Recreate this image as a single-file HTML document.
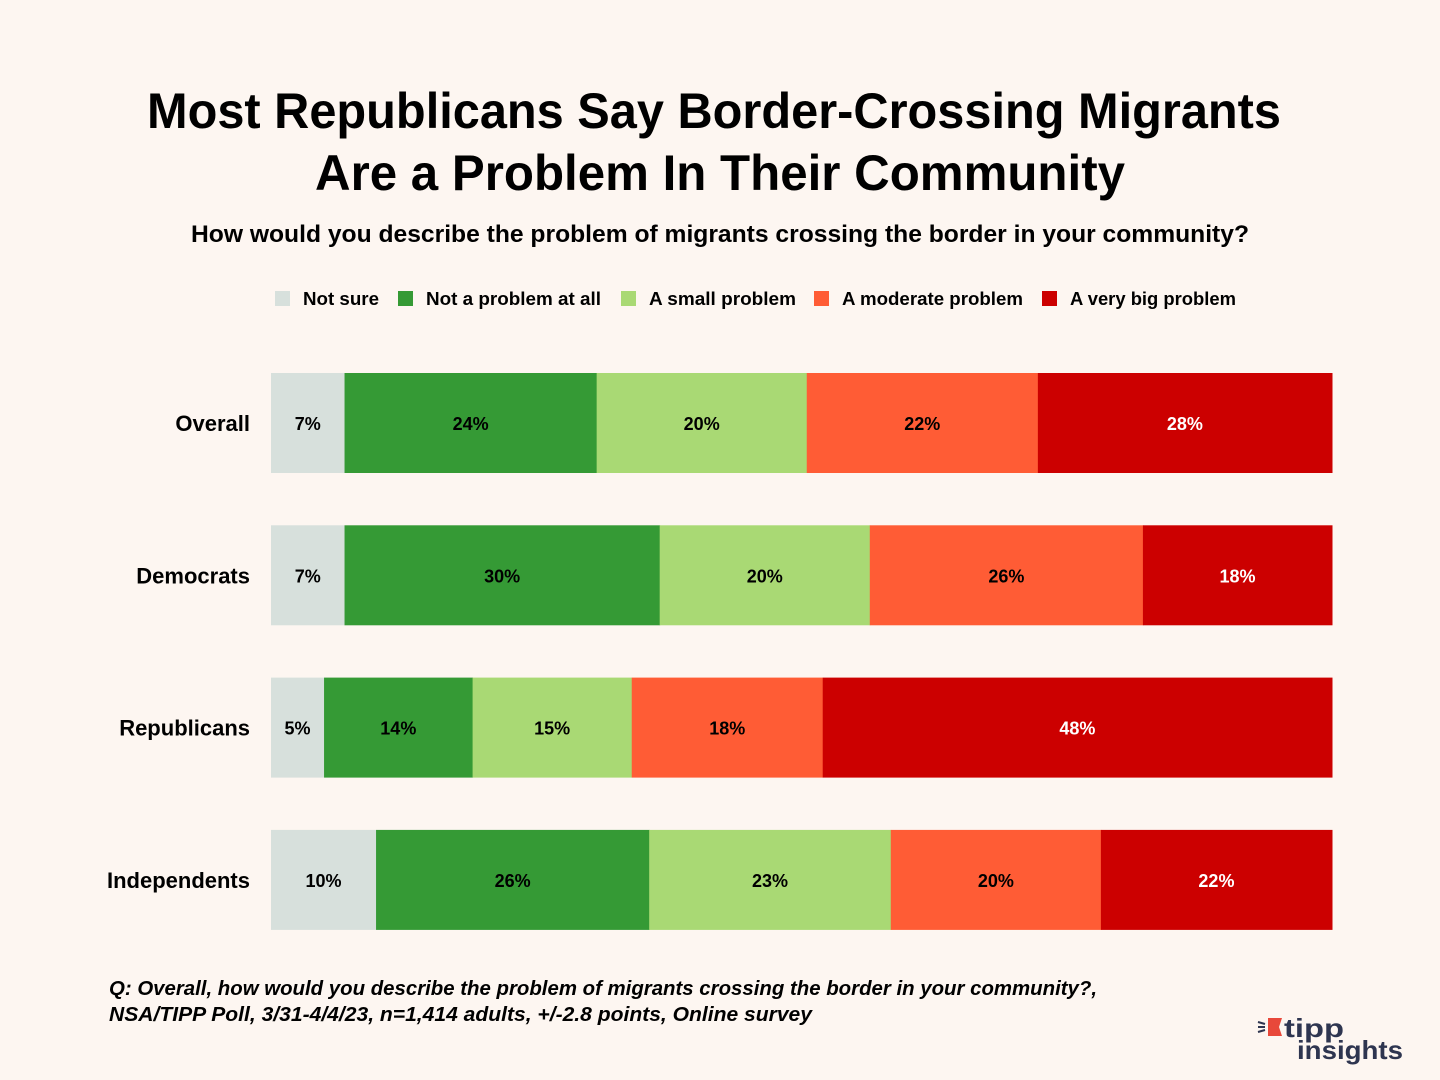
<!DOCTYPE html>
<html><head><meta charset="utf-8"><style>
html,body{margin:0;padding:0;background:#fdf6f1;}
svg{display:block;font-family:"Liberation Sans",sans-serif;}
</style></head><body>
<svg id="chart" width="1440" height="1080" viewBox="0 0 1440 1080" xmlns="http://www.w3.org/2000/svg">
<rect width="1440" height="1080" fill="#fdf6f1"/>
<text x="714" y="128" text-anchor="middle" font-size="50" font-weight="bold" fill="#000" textLength="1134" lengthAdjust="spacingAndGlyphs">Most Republicans Say Border-Crossing Migrants</text>
<text x="720" y="190" text-anchor="middle" font-size="50" font-weight="bold" fill="#000" textLength="810" lengthAdjust="spacingAndGlyphs">Are a Problem In Their Community</text>
<text x="720" y="242" text-anchor="middle" font-size="24" font-weight="bold" fill="#000" textLength="1058" lengthAdjust="spacingAndGlyphs">How would you describe the problem of migrants crossing the border in your community?</text>
<g id="legend"></g>
<g id="bars"></g>
<text x="109" y="995" font-size="20" font-style="italic" font-weight="bold" fill="#000" textLength="988" lengthAdjust="spacingAndGlyphs">Q: Overall, how would you describe the problem of migrants crossing the border in your community?,</text>
<text x="109" y="1021" font-size="20" font-style="italic" font-weight="bold" fill="#000" textLength="703" lengthAdjust="spacingAndGlyphs">NSA/TIPP Poll, 3/31-4/4/23, n=1,414 adults, +/-2.8 points, Online survey</text>
<g>
<polygon points="1268,1018 1282,1018 1279,1027 1282,1036 1268,1036" fill="#e8483a"/>
<line x1="1258" y1="1022" x2="1265" y2="1024" stroke="#2e3550" stroke-width="2"/>
<line x1="1258" y1="1027" x2="1265" y2="1027" stroke="#2e3550" stroke-width="2"/>
<line x1="1258" y1="1032" x2="1265" y2="1030" stroke="#2e3550" stroke-width="2"/>
<text x="1284" y="1037" font-size="26" font-weight="bold" fill="#2e3550" textLength="60" lengthAdjust="spacingAndGlyphs">tipp</text>
<text x="1297" y="1059" font-size="26" font-weight="bold" fill="#2e3550" textLength="106" lengthAdjust="spacingAndGlyphs">insights</text>
</g>
</svg>
<script>
const groups = ["Overall","Democrats","Republicans","Independents"];
const seriesNames = ["Not sure","Not a problem at all","A small problem","A moderate problem","A very big problem"];
const notSure = [7,7,5,10];
const notProblem = [24,30,14,26];
const smallProblem = [20,20,15,23];
const moderateProblem = [22,26,18,20];
const veryBigProblem = [28,18,48,22];
const colors = ["#d7e0dc","#359a35","#a9d974","#ff5c35","#cc0000"];
const labelColors = ["#000","#000","#000","#000","#fff"];
const series = [notSure,notProblem,smallProblem,moderateProblem,veryBigProblem];
const NS="http://www.w3.org/2000/svg";
const X0=271, X1=1332, Y0=373, BH=100, STEP=152.3;
function yPos(i){return Y0+i*STEP;}
const bars=document.getElementById('bars');
function mk(tag,attrs){const e=document.createElementNS(NS,tag);for(const k in attrs)e.setAttribute(k,attrs[k]);return e;}
groups.forEach((g,i)=>{
  const total=series.reduce((s,a)=>s+a[i],0);
  const xs=v=>v/total*(X1-X0);
  const y=yPos(i);
  const lab=mk('text',{x:250,y:y+BH/2+8,'text-anchor':'end','font-size':22,'font-weight':'bold',fill:'#000'});
  
  
  lab.textContent=g;bars.appendChild(lab);
  let acc=0;
  series.forEach((arr,j)=>{
    const x=X0+xs(acc), w=xs(arr[i]);
    const r=mk('rect',{x:x,y:y,width:w+0.5,height:BH,fill:colors[j]});
    
    
    bars.appendChild(r);
    const t=mk('text',{x:x+w/2,y:y+BH/2+7,'text-anchor':'middle','font-size':18,'font-weight':'bold',fill:labelColors[j]});
    
    
    t.textContent=arr[i]+'%';bars.appendChild(t);
    acc+=arr[i];
  });
});
const legend=document.getElementById('legend');
const lx=[275,398,621,814,1042];
const lw=[76,175,147,181,166];
seriesNames.forEach((n,j)=>{
  const r=mk('rect',{x:lx[j],y:291,width:15,height:15,fill:colors[j]});
  
  
  legend.appendChild(r);
  const t=mk('text',{x:lx[j]+28,y:305,'font-size':18,'font-weight':'bold',fill:'#000',textLength:lw[j],lengthAdjust:'spacingAndGlyphs'});
  
  
  t.textContent=n;legend.appendChild(t);
});
</script>
</body></html>
